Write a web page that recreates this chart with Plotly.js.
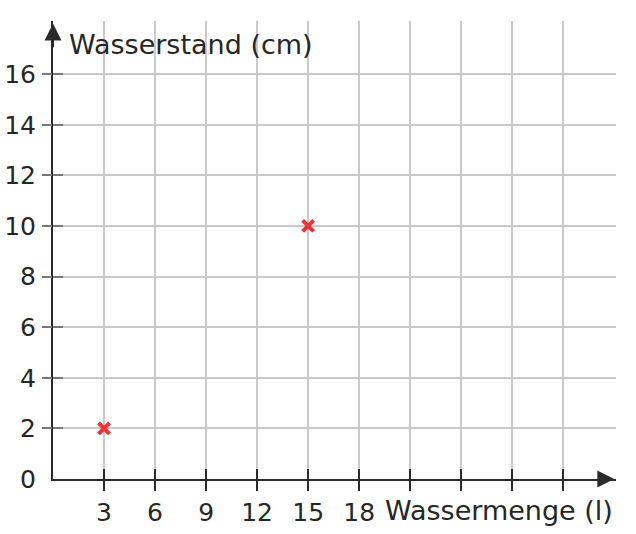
<!DOCTYPE html>
<html>
<head>
<meta charset="utf-8">
<script src="https://cdn.plot.ly/plotly-3.0.1.min.js"></script>
<style>html,body{margin:0;padding:0;background:#fff;}#chart{width:636px;height:534px;}</style>
</head>
<body>
<div id="chart"></div>
<script>
// Data
const wassermenge = [3, 15];
const wasserstand = [2, 10];
const xTickVals = [3, 6, 9, 12, 15, 18, 21, 24, 27, 30];
const xTickText = ['3', '6', '9', '12', '15', '18', '', '', '', ''];
const yTickVals = [0, 2, 4, 6, 8, 10, 12, 14, 16];
const yTickText = ['0', '2', '4', '6', '8', '10', '12', '14', '16'];
const yMarkVals = [2, 4, 6, 8, 10, 12, 14, 16];
const xMax = 33;
const yMax = 18;
const xRange = [0, 33.1];
const yRange = [0, 18.1];
const xTitle = 'Wassermenge (l)';
const yTitle = 'Wasserstand (cm)';

const FONT = 'DejaVu Sans, sans-serif';
const TXT = '#262626';
const GRID = '#c9c9c9';
const AX = '#2a2a2a';
const YTICK = '#777777';

const traces = [
  {x: [], y: [], xaxis: 'x2', yaxis: 'y', type: 'scatter', hoverinfo: 'skip', showlegend: false},
  {x: [], y: [], xaxis: 'x', yaxis: 'y2', type: 'scatter', hoverinfo: 'skip', showlegend: false},
  {x: [], y: [], xaxis: 'x', yaxis: 'y3', type: 'scatter', hoverinfo: 'skip', showlegend: false},
  {
    x: wassermenge, y: wasserstand, type: 'scatter', mode: 'markers',
    marker: {symbol: 'x-thin', size: 11, color: '#ec3338', line: {width: 4, color: '#ec3338'}},
    showlegend: false
  }
];

const baseX = {range: xRange, showgrid: false, zeroline: false, showline: false, fixedrange: true};
const baseY = {range: yRange, showgrid: false, zeroline: false, showline: false, fixedrange: true};

const layout = {
  width: 636, height: 534,
  margin: {l: 53, r: 20, t: 21, b: 55},
  paper_bgcolor: '#fff', plot_bgcolor: '#fff',
  font: {family: FONT, size: 25, color: TXT},
  showlegend: false,
  xaxis: {
    range: xRange, fixedrange: true,
    tickmode: 'array', tickvals: xTickVals, ticktext: xTickText,
    ticks: 'outside', ticklen: 10, tickwidth: 2, tickcolor: AX,
    showgrid: true, gridcolor: GRID, gridwidth: 2,
    zeroline: false, showline: true, linecolor: AX, linewidth: 2,
    tickfont: {family: FONT, size: 25, color: TXT}
  },
  xaxis2: Object.assign({}, baseX, {
    overlaying: 'x', anchor: 'y', side: 'bottom',
    tickmode: 'array', tickvals: xTickVals,
    ticks: 'inside', ticklen: 10, tickwidth: 2, tickcolor: AX, showticklabels: false
  }),
  yaxis: {
    range: yRange, fixedrange: true,
    tickmode: 'array', tickvals: yTickVals, ticktext: yTickText,
    ticks: 'outside', ticklen: 10, tickwidth: 2, tickcolor: 'rgba(0,0,0,0)',
    showgrid: true, gridcolor: GRID, gridwidth: 2,
    zeroline: false, showline: true, linecolor: AX, linewidth: 2,
    tickfont: {family: FONT, size: 25, color: TXT}
  },
  yaxis2: Object.assign({}, baseY, {
    overlaying: 'y', anchor: 'x', side: 'left',
    tickmode: 'array', tickvals: yMarkVals,
    ticks: 'outside', ticklen: 10, tickwidth: 2, tickcolor: YTICK, showticklabels: false
  }),
  yaxis3: Object.assign({}, baseY, {
    overlaying: 'y', anchor: 'x', side: 'left',
    tickmode: 'array', tickvals: yMarkVals,
    ticks: 'inside', ticklen: 10, tickwidth: 2, tickcolor: YTICK, showticklabels: false
  }),
  annotations: [
    {xref: 'x', yref: 'y', x: 0, y: yMax, axref: 'x', ayref: 'y',
     ax: 0, ay: yMax - 1, showarrow: true, arrowhead: 2, arrowsize: 1.7,
     arrowwidth: 2, arrowcolor: AX, text: ''},
    {xref: 'x', yref: 'y', x: xMax, y: 0, axref: 'x', ayref: 'y',
     ax: xMax - 1, ay: 0, showarrow: true, arrowhead: 2, arrowsize: 1.7,
     arrowwidth: 2, arrowcolor: AX, text: ''},
    {xref: 'x', yref: 'y', x: 0, y: yMax, xanchor: 'left', yanchor: 'middle',
     xshift: 14, yshift: -21, showarrow: false, text: yTitle,
     font: {family: FONT, size: 27, color: TXT}},
    {xref: 'x', yref: 'y', x: xMax, y: 0, xanchor: 'right', yanchor: 'middle',
     xshift: 1, yshift: -31, showarrow: false, text: xTitle,
     font: {family: FONT, size: 27, color: TXT}}
  ]
};

Plotly.newPlot('chart', traces, layout, {staticPlot: true, displayModeBar: false});
</script>
</body>
</html>
